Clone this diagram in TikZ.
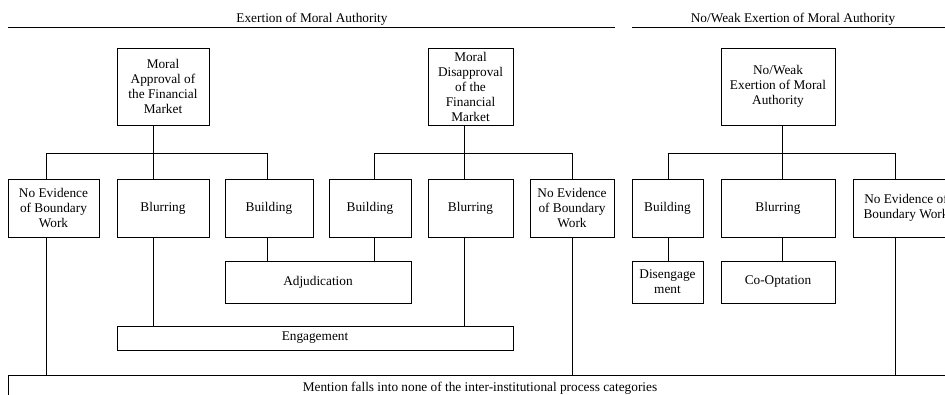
\documentclass[tikz,border=0pt]{standalone}
\usepackage{fontspec}
\setmainfont{Liberation Serif}
\begin{document}
\begin{tikzpicture}[x=1pt,y=-1pt,
  box/.style={draw,line width=0.8pt,inner sep=0pt,align=center,font=\fontsize{13.3}{15}\selectfont},
  ttl/.style={inner sep=0pt,font=\fontsize{13.3}{15}\selectfont},
  ln/.style={line width=0.8pt}]
\useasboundingbox (0,0) rectangle (945,395);
\clip (0,0) rectangle (945,395);
\fill[white] (0,0) rectangle (945,395);
\newcommand{\bx}[6]{\node[box,minimum width={#4-#2},minimum height={#5-#3}] (#1) at ({(#2+#4)/2},{(#3+#5)/2}) {#6};}
% titles
\node[ttl] (t1) at (312,19) {Exertion of Moral Authority};
\node[ttl] (t2) at (793,19) {No/Weak Exertion of Moral Authority};
\coordinate (l1a) at (8,27); \coordinate (l1b) at (615,27);
\coordinate (l2a) at (632,27); \coordinate (l2b) at (945,27);
\draw[ln] (l1a) -- (l1b);
\draw[ln] (l2a) -- (l2b);
% top boxes
\bx{MA}{117}{48}{209}{125}{Moral\\Approval of\\the Financial\\Market}
\bx{MD}{428}{48}{513}{125}{Moral\\Disapproval\\of the\\Financial\\Market}
\bx{NW}{721}{48}{835}{125}{No/Weak\\Exertion of Moral\\Authority}
% second row
\bx{NoEvA}{8}{179}{99}{237}{No Evidence\\of Boundary\\Work}
\bx{BlurA}{117}{179}{209}{237}{Blurring}
\bx{BuildA}{225}{179}{313}{237}{Building}
\bx{BuildB}{329}{179}{411}{237}{Building}
\bx{BlurB}{428}{179}{513}{237}{Blurring}
\bx{NoEvB}{530}{179}{614}{237}{No Evidence\\of Boundary\\Work}
\bx{BuildC}{632}{179}{703}{237}{Building}
\bx{BlurC}{721}{179}{835}{237}{Blurring}
\bx{NoEvC}{853}{179}{959}{237}{No Evidence of\\Boundary Work}
% lower boxes
\bx{Adj}{225}{261}{411}{303}{Adjudication}
\bx{Dis}{632}{261}{703}{303}{Disengage\\ment}
\bx{Coop}{721}{261}{835}{303}{Co-Optation}
\bx{Eng}{117}{326}{513}{350}{Engagement}
\bx{Men}{8}{375}{952}{401}{Mention falls into none of the inter-institutional process categories}
% junctions
\coordinate (j1) at (153,153); \coordinate (j1l) at (46,153); \coordinate (j1r) at (267,153);
\coordinate (j2) at (464,153); \coordinate (j2l) at (374,153); \coordinate (j2r) at (572,153);
\coordinate (j3) at (782,153); \coordinate (j3l) at (668,153); \coordinate (j3r) at (895,153);
% tree 1
\draw[ln] (MA.south -| j1) -- (BlurA.north -| j1);
\draw[ln] (j1l) -- (j1r);
\draw[ln] (j1l) -- (NoEvA.north -| j1l);
\draw[ln] (j1r) -- (BuildA.north -| j1r);
% tree 2
\draw[ln] (MD.south -| j2) -- (BlurB.north -| j2);
\draw[ln] (j2l) -- (j2r);
\draw[ln] (j2l) -- (BuildB.north -| j2l);
\draw[ln] (j2r) -- (NoEvB.north -| j2r);
% tree 3
\draw[ln] (NW.south -| j3) -- (BlurC.north -| j3);
\draw[ln] (j3l) -- (j3r);
\draw[ln] (j3l) -- (BuildC.north -| j3l);
\draw[ln] (j3r) -- (NoEvC.north -| j3r);
% lower connectors
\draw[ln] (BuildA.south -| j1r) -- (Adj.north -| j1r);
\draw[ln] (BuildB.south -| j2l) -- (Adj.north -| j2l);
\draw[ln] (BlurA.south -| j1) -- (Eng.north -| j1);
\draw[ln] (BlurB.south -| j2) -- (Eng.north -| j2);
\draw[ln] (BuildC.south -| j3l) -- (Dis.north -| j3l);
\draw[ln] (BlurC.south -| j3) -- (Coop.north -| j3);
\draw[ln] (NoEvA.south -| j1l) -- (Men.north -| j1l);
\draw[ln] (NoEvB.south -| j2r) -- (Men.north -| j2r);
\draw[ln] (NoEvC.south -| j3r) -- (Men.north -| j3r);
\end{tikzpicture}
\end{document}
